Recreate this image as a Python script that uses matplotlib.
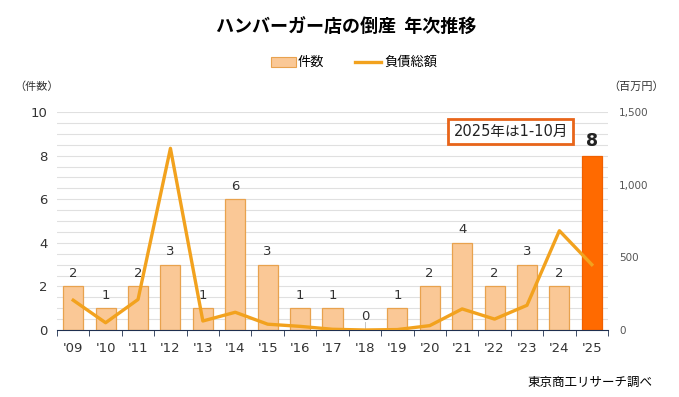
import matplotlib.pyplot as plt
import numpy as np

plt.rcParams['font.family'] = ['DejaVu Sans', 'Noto Sans CJK JP']

years = ["'09", "'10", "'11", "'12", "'13", "'14", "'15", "'16", "'17",
         "'18", "'19", "'20", "'21", "'22", "'23", "'24", "'25"]
counts = [2, 1, 2, 3, 1, 6, 3, 1, 1, 0, 1, 2, 4, 2, 3, 2, 8]
debt = [205, 50, 210, 1250, 62, 122, 40, 25, 5, 0, 3, 30, 145, 75, 170, 683, 450]

fig = plt.figure(figsize=(6.79, 3.97), dpi=100)
ax = fig.add_axes([57 / 679, 1 - 330 / 397, 551 / 679, 218 / 397])
ax2 = ax.twinx()

x = np.arange(len(years))
colors = ['#FAC896'] * (len(years) - 1) + ['#FF6A00']
edges = ['#E8A24E'] * (len(years) - 1) + ['#F06000']
bars = ax.bar(x, counts, width=0.62, color=colors, edgecolor=edges, linewidth=0.9, zorder=2)

# value labels above bars
for i, c in enumerate(counts):
    if i == len(counts) - 1:
        ax.text(i, c + 0.25, str(c), ha='center', va='bottom', fontsize=12.5,
                fontweight='bold', color='#222222')
    else:
        ax.text(i, c + 0.3, str(c), ha='center', va='bottom', fontsize=9.5, color='#333333')
# tiny leader under the zero label
ax.plot([9, 9], [0.05, 0.35], color='#BBBBBB', linewidth=0.6, zorder=2)

ax2.plot(x, debt, color='#F2A21E', linewidth=2.4, zorder=3)

ax.set_xlim(-0.5, len(years) - 0.5)
ax.set_ylim(0, 10)
ax2.set_ylim(0, 1500)

ax.set_yticks(range(0, 11, 2))
ax.set_yticks(np.arange(0, 10.5, 0.5), minor=True)
ax.grid(axis='y', which='both', color='#E0E0E0', linewidth=0.8, zorder=0)
ax.set_axisbelow(True)
ax.tick_params(axis='y', which='both', length=0, labelsize=9.5, labelcolor='#333333', pad=7)

ax2.set_yticks([0, 500, 1000, 1500])
ax2.set_yticklabels(['0', '500', '1,000', '1,500'])
ax2.tick_params(axis='y', length=0, labelsize=7.5, labelcolor='#555555', pad=8)

ax.set_xticks(x)
ax.set_xticklabels(years)
ax.set_xticks(np.arange(-0.5, len(years), 1), minor=True)
ax.tick_params(axis='x', which='major', length=0, labelsize=9.5, labelcolor='#333333', pad=9)
ax.tick_params(axis='x', which='minor', length=4, color='#1F2F4F', direction='out')

for a in (ax, ax2):
    for s in ('top', 'left', 'right'):
        a.spines[s].set_visible(False)
ax2.spines['bottom'].set_visible(False)
ax.spines['bottom'].set_color('#1F2F4F')

fig.text(0.51, 1 - 27 / 397, 'ハンバーガー店の倒産  年次推移', ha='center', va='center',
         fontsize=13, fontweight='bold', family=['Noto Sans CJK JP'])

# legend
fig.patches.append(plt.Rectangle((271 / 679, 1 - 67 / 397), 25 / 679, 10 / 397,
                                 transform=fig.transFigure, facecolor='#FAC896',
                                 edgecolor='#E8A24E', linewidth=0.8))
fig.text(298 / 679, 1 - 62 / 397, '件数', ha='left', va='center', fontsize=9.5,
         family=['Noto Sans CJK JP'])
fig.lines.append(plt.Line2D([355 / 679, 381 / 679], [1 - 62 / 397, 1 - 62 / 397],
                            transform=fig.transFigure, color='#F2A21E', linewidth=2.4))
fig.text(384 / 679, 1 - 62 / 397, '負債総額', ha='left', va='center', fontsize=9.5,
         family=['Noto Sans CJK JP'])

fig.text(14 / 679, 1 - 87 / 397, '（件数）', ha='left', va='center', fontsize=8,
         color='#333333', family=['Noto Sans CJK JP'])
fig.text(664 / 679, 1 - 87 / 397, '（百万円）', ha='right', va='center', fontsize=8,
         color='#333333', family=['Noto Sans CJK JP'])

ax.text(13.5, 9.1, '2025年は1-10月', ha='center', va='center', fontsize=10.5,
        color='#222222', zorder=5,
        bbox=dict(boxstyle='square,pad=0.35', facecolor='white', edgecolor='#E8651A',
                  linewidth=2))

fig.text(652 / 679, 1 - 382 / 397, '東京商工リサーチ調べ', ha='right', va='center',
         fontsize=9, family=['Noto Sans CJK JP'])

fig.savefig('out.png', dpi=100)
